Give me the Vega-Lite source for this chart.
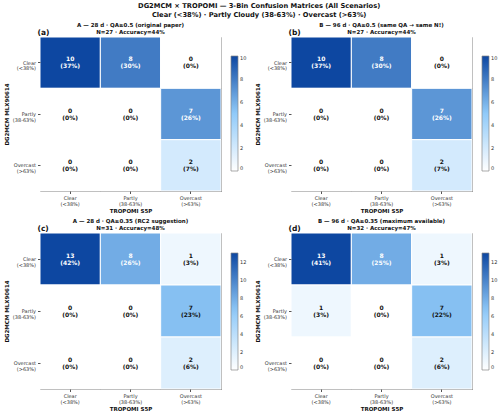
{
  "$schema": "https://vega.github.io/schema/vega-lite/v6.json",
  "background": "white",
  "padding": {"left": 3, "top": 3, "right": 2, "bottom": 2},
  "title": {
    "text": ["DG2MCM × TROPOMI — 3-Bin Confusion Matrices (All Scenarios)", "Clear (<38%) · Partly Cloudy (38-63%) · Overcast (>63%)"],
    "fontSize": 6.7, "fontWeight": "bold", "lineHeight": 8.5, "anchor": "middle", "offset": 4, "dx": 8, "color": "#111"
  },
  "datasets": {
    "a": [
      {"truth": "Clear", "pred": "Clear", "n": 10, "pct": "(37%)"},
      {"truth": "Clear", "pred": "Partly", "n": 8, "pct": "(30%)"},
      {"truth": "Clear", "pred": "Overcast", "n": 0, "pct": "(0%)"},
      {"truth": "Partly", "pred": "Clear", "n": 0, "pct": "(0%)"},
      {"truth": "Partly", "pred": "Partly", "n": 0, "pct": "(0%)"},
      {"truth": "Partly", "pred": "Overcast", "n": 7, "pct": "(26%)"},
      {"truth": "Overcast", "pred": "Clear", "n": 0, "pct": "(0%)"},
      {"truth": "Overcast", "pred": "Partly", "n": 0, "pct": "(0%)"},
      {"truth": "Overcast", "pred": "Overcast", "n": 2, "pct": "(7%)"}
    ],
    "b": [
      {"truth": "Clear", "pred": "Clear", "n": 10, "pct": "(37%)"},
      {"truth": "Clear", "pred": "Partly", "n": 8, "pct": "(30%)"},
      {"truth": "Clear", "pred": "Overcast", "n": 0, "pct": "(0%)"},
      {"truth": "Partly", "pred": "Clear", "n": 0, "pct": "(0%)"},
      {"truth": "Partly", "pred": "Partly", "n": 0, "pct": "(0%)"},
      {"truth": "Partly", "pred": "Overcast", "n": 7, "pct": "(26%)"},
      {"truth": "Overcast", "pred": "Clear", "n": 0, "pct": "(0%)"},
      {"truth": "Overcast", "pred": "Partly", "n": 0, "pct": "(0%)"},
      {"truth": "Overcast", "pred": "Overcast", "n": 2, "pct": "(7%)"}
    ],
    "c": [
      {"truth": "Clear", "pred": "Clear", "n": 13, "pct": "(42%)"},
      {"truth": "Clear", "pred": "Partly", "n": 8, "pct": "(26%)"},
      {"truth": "Clear", "pred": "Overcast", "n": 1, "pct": "(3%)"},
      {"truth": "Partly", "pred": "Clear", "n": 0, "pct": "(0%)"},
      {"truth": "Partly", "pred": "Partly", "n": 0, "pct": "(0%)"},
      {"truth": "Partly", "pred": "Overcast", "n": 7, "pct": "(23%)"},
      {"truth": "Overcast", "pred": "Clear", "n": 0, "pct": "(0%)"},
      {"truth": "Overcast", "pred": "Partly", "n": 0, "pct": "(0%)"},
      {"truth": "Overcast", "pred": "Overcast", "n": 2, "pct": "(6%)"}
    ],
    "d": [
      {"truth": "Clear", "pred": "Clear", "n": 13, "pct": "(41%)"},
      {"truth": "Clear", "pred": "Partly", "n": 8, "pct": "(25%)"},
      {"truth": "Clear", "pred": "Overcast", "n": 1, "pct": "(3%)"},
      {"truth": "Partly", "pred": "Clear", "n": 1, "pct": "(3%)"},
      {"truth": "Partly", "pred": "Partly", "n": 0, "pct": "(0%)"},
      {"truth": "Partly", "pred": "Overcast", "n": 7, "pct": "(22%)"},
      {"truth": "Overcast", "pred": "Clear", "n": 0, "pct": "(0%)"},
      {"truth": "Overcast", "pred": "Partly", "n": 0, "pct": "(0%)"},
      {"truth": "Overcast", "pred": "Overcast", "n": 2, "pct": "(6%)"}
    ]
  },
  "config": {
    "font": "DejaVu Sans",
    "view": {"stroke": "#808080", "strokeWidth": 1},
    "axis": {
      "labelFontSize": 5, "labelColor": "#333", "tickSize": 2.5, "tickColor": "#555", "domain": false, "grid": false,
      "titleFontSize": 5.5, "titleFontWeight": "bold", "titleColor": "#111", "labelLineHeight": 5.5
    },
    "title": {"fontSize": 5.5, "fontWeight": "bold", "lineHeight": 6.5, "color": "#111"},
    "legend": {
      "direction": "vertical", "gradientThickness": 7, "labelFontSize": 5, "labelColor": "#333",
      "gradientStrokeColor": "#888", "gradientStrokeWidth": 0.7, "labelOffset": 3
    }
  },
  "spacing": 4,
  "resolve": {"scale": {"color": "independent"}, "legend": {"color": "independent"}},
  "vconcat": [
    {
      "spacing": 6,
      "resolve": {"scale": {"color": "independent"}, "legend": {"color": "independent"}},
      "hconcat": [
        {
          "width": 181, "height": 154,
          "data": {"name": "a"},
          "title": {"text": ["A — 28 d · QA≥0.5 (original paper)", "N=27 · Accuracy=44%"], "offset": -7},
          "resolve": {"axis": {"x": "independent", "y": "independent"}},
          "layer": [
            {
              "mark": {"type": "rect", "stroke": "white", "strokeWidth": 1},
              "encoding": {
                "x": {"field": "pred", "type": "nominal", "sort": ["Clear", "Partly", "Overcast"],
                  "axis": {"title": "TROPOMI S5P", "labelAngle": 0, "titlePadding": 2,
                    "labelExpr": "datum.value == 'Clear' ? ['Clear', '(<38%)'] : datum.value == 'Partly' ? ['Partly', '(38-63%)'] : ['Overcast', '(>63%)']"}},
                "y": {"field": "truth", "type": "nominal", "sort": ["Clear", "Partly", "Overcast"],
                  "axis": {"title": "DG2MCM MLX90614", "labelAlign": "right", "labelBaseline": "middle", "titlePadding": 3,
                    "labelExpr": "datum.value == 'Clear' ? ['Clear', '(<38%)'] : datum.value == 'Partly' ? ['Partly', '(38-63%)'] : ['Overcast', '(>63%)']"}},
                "color": {"field": "n", "type": "quantitative",
                  "scale": {"domain": [0, 5, 10], "range": ["#ffffff", "#90caf9", "#0d47a1"], "interpolate": "rgb"},
                  "legend": {"title": null, "orient": "none", "legendX": 191, "legendY": 19, "gradientLength": 115, "values": [0, 2, 4, 6, 8, 10]}}
              }
            },
            {
              "mark": {"type": "text", "dy": -3.5, "fontSize": 6, "fontWeight": "bold"},
              "encoding": {
                "x": {"field": "pred", "type": "nominal", "sort": ["Clear", "Partly", "Overcast"],
                  "axis": {"orient": "top", "title": "(a)", "titleFontSize": 7.5, "titleAnchor": "start", "titleAlign": "left", "titleX": -3, "labels": false, "ticks": false, "titlePadding": 1}},
                "y": {"field": "truth", "type": "nominal", "sort": ["Clear", "Partly", "Overcast"], "axis": null},
                "text": {"field": "n", "type": "quantitative"},
                "color": {"condition": {"test": "datum.n > 6", "value": "white"}, "value": "#111"}
              }
            },
            {
              "mark": {"type": "text", "dy": 3.5, "fontSize": 6, "fontWeight": "bold"},
              "encoding": {
                "x": {"field": "pred", "type": "nominal", "sort": ["Clear", "Partly", "Overcast"], "axis": null},
                "y": {"field": "truth", "type": "nominal", "sort": ["Clear", "Partly", "Overcast"], "axis": null},
                "text": {"field": "pct", "type": "nominal"},
                "color": {"condition": {"test": "datum.n > 6", "value": "white"}, "value": "#111"}
              }
            }
          ]
        },
        {
          "width": 181, "height": 154,
          "data": {"name": "b"},
          "title": {"text": ["B — 96 d · QA≥0.5 (same QA → same N!)", "N=27 · Accuracy=44%"], "offset": -7},
          "resolve": {"axis": {"x": "independent", "y": "independent"}},
          "layer": [
            {
              "mark": {"type": "rect", "stroke": "white", "strokeWidth": 1},
              "encoding": {
                "x": {"field": "pred", "type": "nominal", "sort": ["Clear", "Partly", "Overcast"],
                  "axis": {"title": "TROPOMI S5P", "labelAngle": 0, "titlePadding": 2,
                    "labelExpr": "datum.value == 'Clear' ? ['Clear', '(<38%)'] : datum.value == 'Partly' ? ['Partly', '(38-63%)'] : ['Overcast', '(>63%)']"}},
                "y": {"field": "truth", "type": "nominal", "sort": ["Clear", "Partly", "Overcast"],
                  "axis": {"title": "DG2MCM MLX90614", "labelAlign": "right", "labelBaseline": "middle", "titlePadding": 3,
                    "labelExpr": "datum.value == 'Clear' ? ['Clear', '(<38%)'] : datum.value == 'Partly' ? ['Partly', '(38-63%)'] : ['Overcast', '(>63%)']"}},
                "color": {"field": "n", "type": "quantitative",
                  "scale": {"domain": [0, 5, 10], "range": ["#ffffff", "#90caf9", "#0d47a1"], "interpolate": "rgb"},
                  "legend": {"title": null, "orient": "none", "legendX": 191, "legendY": 19, "gradientLength": 115, "values": [0, 2, 4, 6, 8, 10]}}
              }
            },
            {
              "mark": {"type": "text", "dy": -3.5, "fontSize": 6, "fontWeight": "bold"},
              "encoding": {
                "x": {"field": "pred", "type": "nominal", "sort": ["Clear", "Partly", "Overcast"],
                  "axis": {"orient": "top", "title": "(b)", "titleFontSize": 7.5, "titleAnchor": "start", "titleAlign": "left", "titleX": -3, "labels": false, "ticks": false, "titlePadding": 1}},
                "y": {"field": "truth", "type": "nominal", "sort": ["Clear", "Partly", "Overcast"], "axis": null},
                "text": {"field": "n", "type": "quantitative"},
                "color": {"condition": {"test": "datum.n > 6", "value": "white"}, "value": "#111"}
              }
            },
            {
              "mark": {"type": "text", "dy": 3.5, "fontSize": 6, "fontWeight": "bold"},
              "encoding": {
                "x": {"field": "pred", "type": "nominal", "sort": ["Clear", "Partly", "Overcast"], "axis": null},
                "y": {"field": "truth", "type": "nominal", "sort": ["Clear", "Partly", "Overcast"], "axis": null},
                "text": {"field": "pct", "type": "nominal"},
                "color": {"condition": {"test": "datum.n > 6", "value": "white"}, "value": "#111"}
              }
            }
          ]
        }
      ]
    },
    {
      "spacing": 6,
      "resolve": {"scale": {"color": "independent"}, "legend": {"color": "independent"}},
      "hconcat": [
        {
          "width": 181, "height": 156,
          "data": {"name": "c"},
          "title": {"text": ["A — 28 d · QA≥0.35 (RC2 suggestion)", "N=31 · Accuracy=48%"], "offset": -7},
          "resolve": {"axis": {"x": "independent", "y": "independent"}},
          "layer": [
            {
              "mark": {"type": "rect", "stroke": "white", "strokeWidth": 1},
              "encoding": {
                "x": {"field": "pred", "type": "nominal", "sort": ["Clear", "Partly", "Overcast"],
                  "axis": {"title": "TROPOMI S5P", "labelAngle": 0, "titlePadding": 2,
                    "labelExpr": "datum.value == 'Clear' ? ['Clear', '(<38%)'] : datum.value == 'Partly' ? ['Partly', '(38-63%)'] : ['Overcast', '(>63%)']"}},
                "y": {"field": "truth", "type": "nominal", "sort": ["Clear", "Partly", "Overcast"],
                  "axis": {"title": "DG2MCM MLX90614", "labelAlign": "right", "labelBaseline": "middle", "titlePadding": 3,
                    "labelExpr": "datum.value == 'Clear' ? ['Clear', '(<38%)'] : datum.value == 'Partly' ? ['Partly', '(38-63%)'] : ['Overcast', '(>63%)']"}},
                "color": {"field": "n", "type": "quantitative",
                  "scale": {"domain": [0, 6.5, 13], "range": ["#ffffff", "#90caf9", "#0d47a1"], "interpolate": "rgb"},
                  "legend": {"title": null, "orient": "none", "legendX": 191, "legendY": 20, "gradientLength": 117, "values": [0, 2, 4, 6, 8, 10, 12]}}
              }
            },
            {
              "mark": {"type": "text", "dy": -3.5, "fontSize": 6, "fontWeight": "bold"},
              "encoding": {
                "x": {"field": "pred", "type": "nominal", "sort": ["Clear", "Partly", "Overcast"],
                  "axis": {"orient": "top", "title": "(c)", "titleFontSize": 7.5, "titleAnchor": "start", "titleAlign": "left", "titleX": -3, "labels": false, "ticks": false, "titlePadding": 1}},
                "y": {"field": "truth", "type": "nominal", "sort": ["Clear", "Partly", "Overcast"], "axis": null},
                "text": {"field": "n", "type": "quantitative"},
                "color": {"condition": {"test": "datum.n > 7.8", "value": "white"}, "value": "#111"}
              }
            },
            {
              "mark": {"type": "text", "dy": 3.5, "fontSize": 6, "fontWeight": "bold"},
              "encoding": {
                "x": {"field": "pred", "type": "nominal", "sort": ["Clear", "Partly", "Overcast"], "axis": null},
                "y": {"field": "truth", "type": "nominal", "sort": ["Clear", "Partly", "Overcast"], "axis": null},
                "text": {"field": "pct", "type": "nominal"},
                "color": {"condition": {"test": "datum.n > 7.8", "value": "white"}, "value": "#111"}
              }
            }
          ]
        },
        {
          "width": 181, "height": 156,
          "data": {"name": "d"},
          "title": {"text": ["B — 96 d · QA≥0.35 (maximum available)", "N=32 · Accuracy=47%"], "offset": -7},
          "resolve": {"axis": {"x": "independent", "y": "independent"}},
          "layer": [
            {
              "mark": {"type": "rect", "stroke": "white", "strokeWidth": 1},
              "encoding": {
                "x": {"field": "pred", "type": "nominal", "sort": ["Clear", "Partly", "Overcast"],
                  "axis": {"title": "TROPOMI S5P", "labelAngle": 0, "titlePadding": 2,
                    "labelExpr": "datum.value == 'Clear' ? ['Clear', '(<38%)'] : datum.value == 'Partly' ? ['Partly', '(38-63%)'] : ['Overcast', '(>63%)']"}},
                "y": {"field": "truth", "type": "nominal", "sort": ["Clear", "Partly", "Overcast"],
                  "axis": {"title": "DG2MCM MLX90614", "labelAlign": "right", "labelBaseline": "middle", "titlePadding": 3,
                    "labelExpr": "datum.value == 'Clear' ? ['Clear', '(<38%)'] : datum.value == 'Partly' ? ['Partly', '(38-63%)'] : ['Overcast', '(>63%)']"}},
                "color": {"field": "n", "type": "quantitative",
                  "scale": {"domain": [0, 6.5, 13], "range": ["#ffffff", "#90caf9", "#0d47a1"], "interpolate": "rgb"},
                  "legend": {"title": null, "orient": "none", "legendX": 191, "legendY": 20, "gradientLength": 117, "values": [0, 2, 4, 6, 8, 10, 12]}}
              }
            },
            {
              "mark": {"type": "text", "dy": -3.5, "fontSize": 6, "fontWeight": "bold"},
              "encoding": {
                "x": {"field": "pred", "type": "nominal", "sort": ["Clear", "Partly", "Overcast"],
                  "axis": {"orient": "top", "title": "(d)", "titleFontSize": 7.5, "titleAnchor": "start", "titleAlign": "left", "titleX": -3, "labels": false, "ticks": false, "titlePadding": 1}},
                "y": {"field": "truth", "type": "nominal", "sort": ["Clear", "Partly", "Overcast"], "axis": null},
                "text": {"field": "n", "type": "quantitative"},
                "color": {"condition": {"test": "datum.n > 7.8", "value": "white"}, "value": "#111"}
              }
            },
            {
              "mark": {"type": "text", "dy": 3.5, "fontSize": 6, "fontWeight": "bold"},
              "encoding": {
                "x": {"field": "pred", "type": "nominal", "sort": ["Clear", "Partly", "Overcast"], "axis": null},
                "y": {"field": "truth", "type": "nominal", "sort": ["Clear", "Partly", "Overcast"], "axis": null},
                "text": {"field": "pct", "type": "nominal"},
                "color": {"condition": {"test": "datum.n > 7.8", "value": "white"}, "value": "#111"}
              }
            }
          ]
        }
      ]
    }
  ]
}
